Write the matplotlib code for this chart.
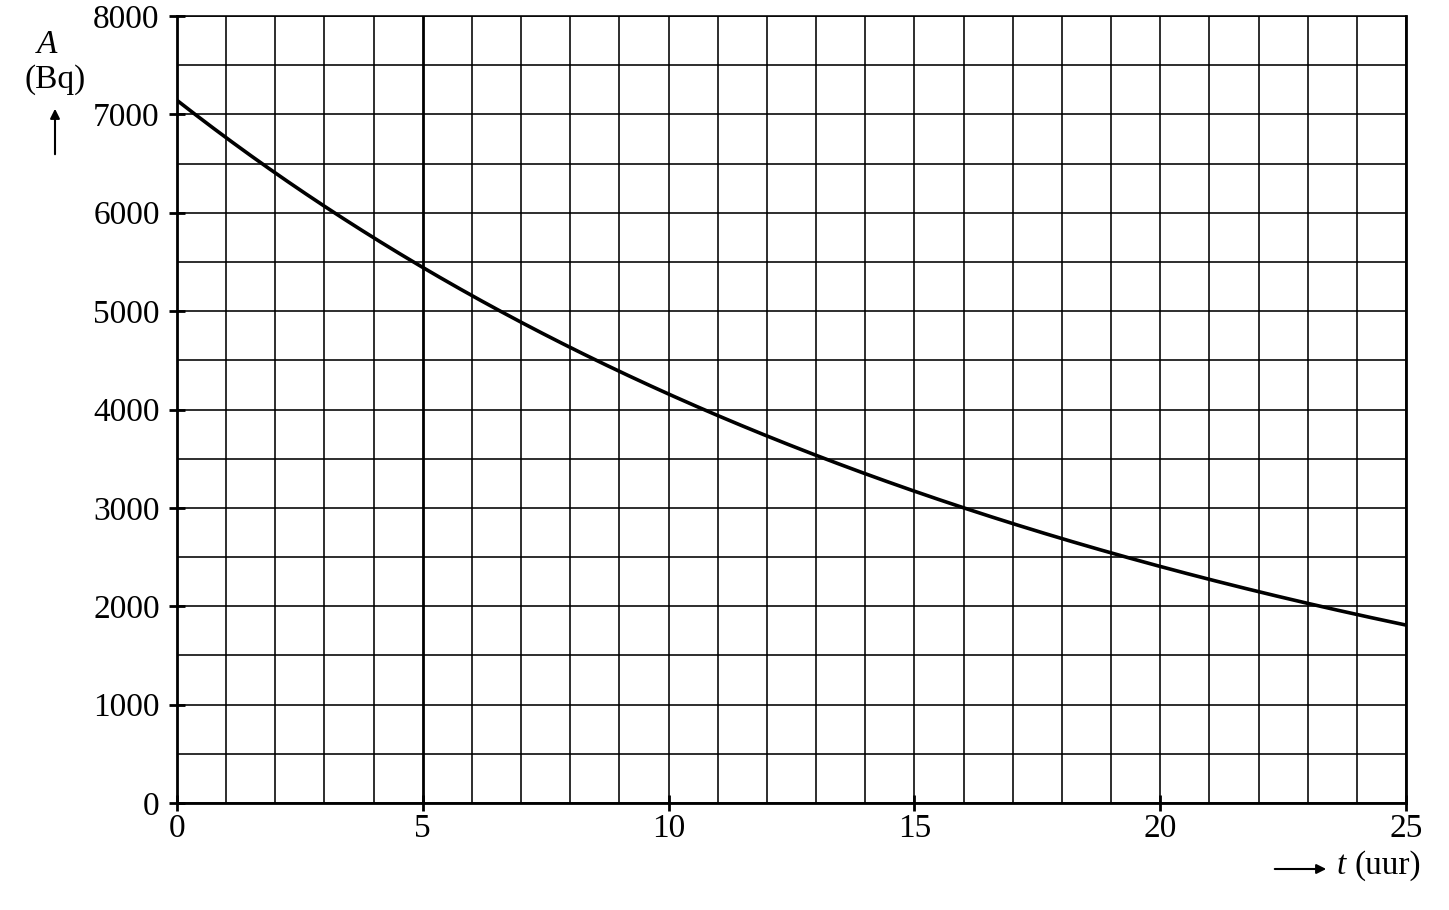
import matplotlib
matplotlib.use("Agg")
import matplotlib.pyplot as plt
from matplotlib.patches import FancyArrowPatch
import numpy as np

# Data
t_hours = [0, 1, 2, 3, 4, 5, 6, 7, 8, 9, 10, 11, 12, 13, 14, 15, 16, 17, 18, 19, 20, 21, 22, 23, 24, 25]
activity_bq = [7145, 6736, 6380, 6035, 5733, 5420, 5140, 4880, 4646, 4405, 4168, 3960, 3741, 3527,
               3351, 3175, 3012, 2843, 2680, 2531, 2396, 2267, 2145, 2030, 1914, 1809]
x_ticks = [0, 5, 10, 15, 20, 25]
y_ticks = [0, 1000, 2000, 3000, 4000, 5000, 6000, 7000, 8000]

plt.rcParams['font.family'] = ['Liberation Serif', 'DejaVu Serif']

fig = plt.figure(figsize=(14.49, 9.10), dpi=100)
ax = fig.add_axes([177/1449, 1-803/910, (1406-177)/1449, (803-16)/910])

ax.set_xlim(0, 25)
ax.set_ylim(0, 8000)

# grid
for xv in range(0, 26):
    lw = 2.0 if xv == 5 else 1.15
    ax.axvline(xv, color='black', lw=lw, zorder=1)
for yv in range(0, 8001, 500):
    ax.axhline(yv, color='black', lw=1.15, zorder=1)

# smooth curve fitted through the read points (least squares in log space)
ts = np.asarray(t_hours, dtype=float)
As = np.asarray(activity_bq, dtype=float)
w = np.ones_like(ts)
w[0] = w[-1] = 6.0
coef = np.polyfit(ts, np.log(As), 3, w=w)
tf = np.linspace(ts[0], ts[-1], 600)
ax.plot(tf, np.exp(np.polyval(coef, tf)), color='black', lw=2.6, zorder=3,
        solid_capstyle='butt')

for side in ['left', 'bottom', 'right']:
    ax.spines[side].set_linewidth(2.0)
ax.spines['top'].set_linewidth(1.15)

ax.set_xticks(x_ticks)
ax.set_yticks(y_ticks)
ax.set_xticklabels([str(v) for v in x_ticks])
ax.set_yticklabels([str(v) for v in y_ticks])
ax.tick_params(axis='both', direction='inout', length=11, width=2.0, labelsize=24)
ax.tick_params(axis='y', pad=7)
ax.tick_params(axis='x', pad=2)

# axis labels
fig.text(47/1449, 1-45/910, 'A', fontsize=24, style='italic', ha='center', va='center')
fig.text(55/1449, 1-80/910, '(Bq)', fontsize=24, ha='center', va='center')
fig.patches.append(FancyArrowPatch(
    (55/1449, 1-157/910), (55/1449, 1-106/910), transform=fig.transFigure,
    arrowstyle='-|>', mutation_scale=14, color='black', lw=1.5))

fig.patches.append(FancyArrowPatch(
    (1272/1449, 1-869/910), (1329/1449, 1-869/910), transform=fig.transFigure,
    arrowstyle='-|>', mutation_scale=14, color='black', lw=1.5))
fig.text(1337/1449, 1-866/910, 't', fontsize=24, style='italic', ha='left', va='center')
fig.text(1355/1449, 1-866/910, '(uur)', fontsize=24, ha='left', va='center')

fig.savefig('out.png', dpi=100, facecolor='white')
